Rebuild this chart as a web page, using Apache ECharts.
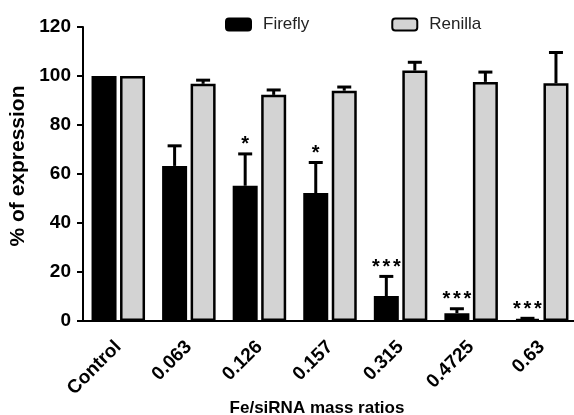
<!DOCTYPE html>
<html>
<head>
<meta charset="utf-8">
<script src="https://cdn.jsdelivr.net/npm/echarts@6/dist/echarts.min.js"></script>
<style>
  html, body { margin: 0; padding: 0; background: #fff; }
  #chart { width: 574px; height: 415px; }
</style>
</head>
<body>
<div id="chart"></div>
<script>
// Fe/siRNA mass ratio groups
const categories = ['Control', '0.063', '0.126', '0.157', '0.315', '0.4725', '0.63'];

// Luciferase expression (% of control) and upper error (SD)
const fireflyValues = [100, 63.3, 55.2, 52.2, 10.2, 3.2, 0.8];
const fireflyErrors = [0, 8.2, 13.0, 12.5, 8.0, 1.8, 0.3];
const renillaValues = [100, 96.8, 92.3, 94.0, 102.2, 97.6, 97.0];
const renillaErrors = [0, 1.5, 2.0, 1.5, 3.4, 4.0, 12.6];

// Significance marks for Firefly vs. control
const fireflyStars = ['', '', '*', '*', '***', '***', '***'];

const yTicks = [0, 20, 40, 60, 80, 100, 120];

const BAR_W = 25;
const BAR_GAP = 0.14; // fraction of bar width between the two bars
const halfSpan = (BAR_W + BAR_W * BAR_GAP) / 2;
const STAR_STEP = 10.5; // horizontal spacing of stacked asterisks

function errorSeries(name, values, errors, stars, dir) {
  return {
    name: name + ' error',
    type: 'custom',
    z: 5,
    silent: true,
    data: values.map((v, i) => [i, v, errors[i], stars ? stars[i] : '']),
    renderItem: function (params, api) {
      const idx = api.value(0);
      const val = api.value(1);
      const err = api.value(2);
      const base = api.coord([idx, val]);
      const top = api.coord([idx, val + err]);
      const x = base[0] + dir * halfSpan;
      const children = [];
      if (err > 0) {
        children.push({
          type: 'line',
          shape: { x1: x, y1: base[1], x2: x, y2: top[1] },
          style: { stroke: '#000', lineWidth: 3 }
        });
        children.push({
          type: 'line',
          shape: { x1: x - 7, y1: top[1], x2: x + 7, y2: top[1] },
          style: { stroke: '#000', lineWidth: 3 }
        });
      }
      const mark = String(api.value(3) || '');
      const n = mark.length;
      for (let k = 0; k < n; k++) {
        children.push({
          type: 'text',
          style: {
            x: x + (k - (n - 1) / 2) * STAR_STEP,
            y: top[1] + 1,
            text: mark[k],
            align: 'center',
            verticalAlign: 'bottom',
            fill: '#000',
            font: 'bold 20px "Liberation Sans", Arial, sans-serif'
          }
        });
      }
      return { type: 'group', children: children };
    }
  };
}

const chart = echarts.init(document.getElementById('chart'), null, { renderer: 'canvas' });

chart.setOption({
  animation: false,
  backgroundColor: '#fff',
  textStyle: { fontFamily: '"Liberation Sans", Arial, sans-serif' },
  grid: { left: 83, top: 27, width: 494, height: 294, containLabel: false, outerBoundsMode: 'none' },
  legend: {
    data: ['Firefly', 'Renilla'],
    left: 225,
    top: 16,
    padding: 0,
    itemWidth: 25,
    itemHeight: 12,
    itemGap: 82,
    icon: 'roundRect',
    textStyle: { fontSize: 17, color: '#222', padding: [0, 0, 0, 7] }
  },
  xAxis: {
    type: 'category',
    data: categories,
    name: 'Fe/siRNA mass ratios',
    nameLocation: 'middle',
    nameGap: 79,
    nameMoveOverlap: false,
    nameTextStyle: { fontSize: 17, fontWeight: 'bold', color: '#000', padding: [0, 26, 0, 0] },
    axisLine: { lineStyle: { color: '#000', width: 2 } },
    axisTick: { alignWithLabel: true, length: 6, lineStyle: { color: '#000', width: 2 } },
    axisLabel: { rotate: 45, margin: 23, fontSize: 19, fontWeight: 'bold', color: '#000', interval: 0 }
  },
  yAxis: {
    type: 'value',
    min: 0,
    max: 120,
    interval: 20,
    name: '% of expression',
    nameLocation: 'middle',
    nameGap: 54,
    nameMoveOverlap: false,
    nameTextStyle: { fontSize: 21, fontWeight: 'bold', color: '#000', padding: [0, 0, 0, 16] },
    axisLine: { show: true, lineStyle: { color: '#000', width: 2 } },
    axisTick: { show: true, length: 6, lineStyle: { color: '#000', width: 2 } },
    splitLine: { show: false },
    axisLabel: {
      margin: 12, fontSize: 19, fontWeight: 'bold', color: '#000',
      formatter: v => (yTicks.includes(v) ? String(v) : '')
    }
  },
  series: [
    {
      name: 'Firefly',
      type: 'bar',
      data: fireflyValues,
      barWidth: BAR_W,
      barGap: (BAR_GAP * 100) + '%',
      itemStyle: { color: '#000', borderColor: '#000', borderWidth: 2.5 }
    },
    {
      name: 'Renilla',
      type: 'bar',
      data: renillaValues,
      barWidth: BAR_W,
      itemStyle: { color: '#d3d3d3', borderColor: '#000', borderWidth: 2.5 }
    },
    errorSeries('Firefly', fireflyValues, fireflyErrors, fireflyStars, -1),
    errorSeries('Renilla', renillaValues, renillaErrors, null, 1)
  ]
});
</script>
</body>
</html>
